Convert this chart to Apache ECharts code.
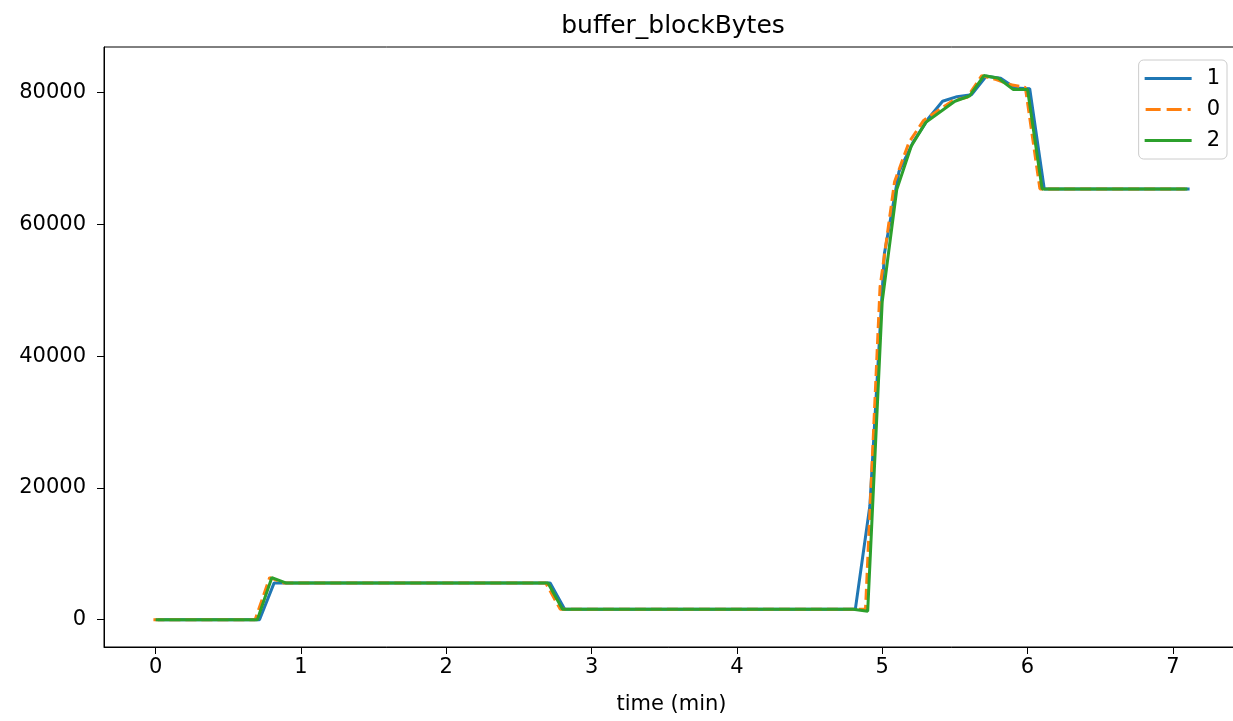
<!DOCTYPE html>
<html>
<head>
<meta charset="utf-8">
<script src="https://cdn.jsdelivr.net/npm/echarts@6/dist/echarts.min.js"></script>
<style>html,body{margin:0;padding:0;background:#fff}#c{width:1233px;height:721px}</style>
</head>
<body>
<div id="c"></div>
<script>
// shared sample times (min)
const times = [0.0,0.1,0.2,0.3,0.4,0.5,0.6,0.7,0.8,0.9,1.0,1.1,1.2,1.3,1.4,1.5,1.6,1.7,1.8,1.9,2.0,2.1,2.2,2.3,2.4,2.5,2.6,2.7,2.8,2.9,3.0,3.1,3.2,3.3,3.4,3.5,3.6,3.7,3.8,3.9,4.0,4.1,4.2,4.3,4.4,4.5,4.6,4.7,4.8,4.9,5.0,5.1,5.2,5.3,5.4,5.5,5.6,5.7,5.8,5.9,6.0,6.1,6.2,6.3,6.4,6.5,6.6,6.7,6.8,6.9,7.0,7.1];
// small per-series sampling shift (min)
const shift1 = 0.015, shift0 = -0.015, shift2 = 0.0;

const series1 = [0,0,0,0,0,0,0,0,5560,5560,5560,5560,5560,5560,5560,5560,5560,5560,5560,5560,5560,5560,5560,5560,5560,5560,5560,5560,1580,1580,1580,1580,1580,1580,1580,1580,1580,1580,1580,1580,1580,1580,1580,1580,1580,1580,1580,1580,1580,17300,55600,68000,72600,76000,78700,79400,79700,82500,82200,80700,80600,65400,65400,65400,65400,65400,65400,65400,65400,65400,65400,65400];
const series0 = [0,0,0,0,0,0,0,0,6400,5560,5560,5560,5560,5560,5560,5560,5560,5560,5560,5560,5560,5560,5560,5560,5560,5560,5560,5560,1580,1580,1580,1580,1580,1580,1580,1580,1580,1580,1580,1580,1580,1580,1580,1580,1580,1580,1580,1580,1580,1600,50500,66500,72500,75800,77300,78800,79300,82600,82000,81200,80800,65400,65400,65400,65400,65400,65400,65400,65400,65400,65400,65400];
const series2 = [0,0,0,0,0,0,0,0,6400,5560,5560,5560,5560,5560,5560,5560,5560,5560,5560,5560,5560,5560,5560,5560,5560,5560,5560,5560,1580,1580,1580,1580,1580,1580,1580,1580,1580,1580,1580,1580,1580,1580,1580,1580,1580,1580,1580,1580,1580,1300,48300,65300,71900,75500,77100,78700,79500,82600,82200,80500,80500,65400,65400,65400,65400,65400,65400,65400,65400,65400,65400,65400];

const xTicks = [0,1,2,3,4,5,6,7];
const yTicks = [0,20000,40000,60000,80000];

function pts(vals, sh){ return vals.map((v,i)=>[times[i]+sh, v]); }

const font = 'DejaVu Sans';
const dashIcon = 'path://M0,0h15v3h-15zM21,0h15v3h-15zM42,0h3v3h-3z';
const chart = echarts.init(document.getElementById('c'), null, {renderer:'canvas'});
chart.setOption({
  animation:false,
  backgroundColor:'#fff',
  textStyle:{fontFamily:font},
  title:{text:'buffer_blockBytes', left:668, top:9, textAlign:'center',
    textStyle:{fontFamily:font, fontSize:25, fontWeight:'normal', color:'#000'}},
  grid:{left:104, top:47, right:-6, bottom:74, show:true, borderColor:'#000', borderWidth:1, outerBoundsMode:'none', containLabel:false},
  legend:{orient:'vertical', right:6, top:60,
    data:[{name:'1', icon:'rect'},{name:'0', icon:dashIcon},{name:'2', icon:'rect'}],
    itemWidth:47, itemHeight:3, itemGap:10, padding:[8,7,8,6],
    borderColor:'#cccccc', borderWidth:1, borderRadius:5, backgroundColor:'rgba(255,255,255,0.8)',
    textStyle:{fontFamily:font, fontSize:21, color:'#000', padding:[0,0,0,10], lineHeight:21}},
  xAxis:{type:'value', min:-0.355, max:7.455, name:'time (min)', nameLocation:'middle', nameGap:47,
    nameTextStyle:{fontFamily:font, fontSize:21, color:'#000'},
    splitLine:{show:false},
    axisLine:{show:true, onZero:false, lineStyle:{color:'#000', width:1}},
    axisTick:{show:true, length:7, lineStyle:{color:'#000'}, customValues:xTicks},
    axisLabel:{color:'#000', fontSize:21, fontFamily:font, margin:10, customValues:xTicks}},
  yAxis:{type:'value', min:-4140, max:86940,
    splitLine:{show:false},
    axisLine:{show:true, onZero:false, lineStyle:{color:'#000', width:1}},
    axisTick:{show:true, length:7, lineStyle:{color:'#000'}, customValues:yTicks},
    axisLabel:{color:'#000', fontSize:21, fontFamily:font, margin:18, customValues:yTicks,
      formatter:function(v){ return String(v); }}},
  series:[
    {name:'1', type:'line', data:pts(series1, shift1), symbol:'none', color:'#1f77b4',
     lineStyle:{width:3, color:'#1f77b4'}},
    {name:'0', type:'line', data:pts(series0, shift0), symbol:'none', color:'#ff7f0e',
     lineStyle:{width:3, color:'#ff7f0e', type:[11,5]}},
    {name:'2', type:'line', data:pts(series2, shift2), symbol:'none', color:'#2ca02c',
     lineStyle:{width:3, color:'#2ca02c'}}
  ]
});
</script>
</body>
</html>
